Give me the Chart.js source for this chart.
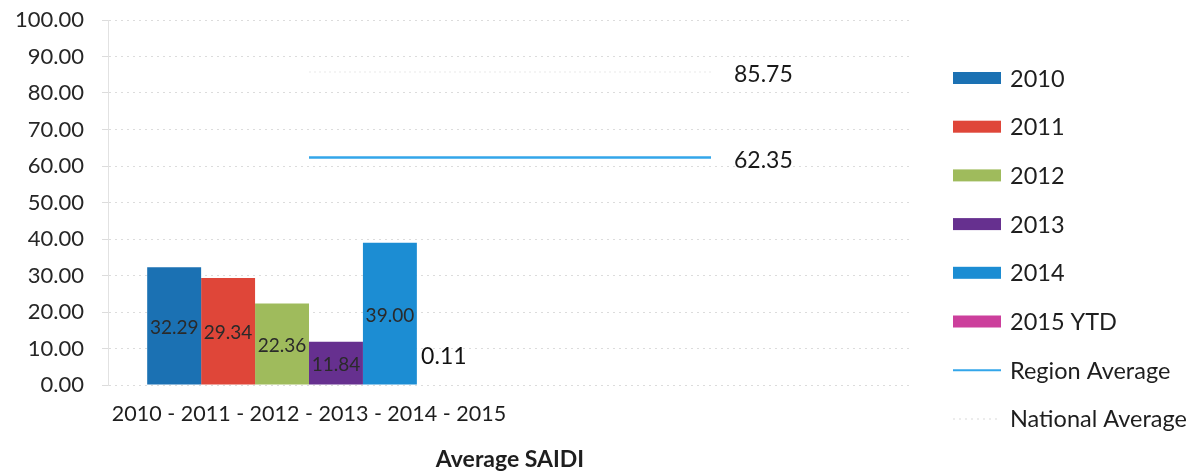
<!DOCTYPE html>
<html>
<head>
<meta charset="utf-8">
<script src="https://cdn.jsdelivr.net/npm/chart.js@4.4.1/dist/chart.umd.min.js"></script>
<style>
  html, body { margin: 0; padding: 0; background: #ffffff; }
  #wrap { width: 1198px; height: 473px; position: relative; }
</style>
</head>
<body>
<div id="wrap"><canvas id="c"></canvas></div>
<script>
// Average SAIDI by year, with region and national averages
const categories = ['2010 - 2011 - 2012 - 2013 - 2014 - 2015', ''];
const years = ['2010', '2011', '2012', '2013', '2014', '2015 YTD'];
const saidi = [32.29, 29.34, 22.36, 11.84, 39.00, 0.11];
const yearColors = ['#1b71b3', '#df4639', '#9fbb5c', '#66308f', '#1c8dd3', '#cc3f9c'];
const regionAverage = [62.35, 62.35];
const nationalAverage = [85.75, 85.75];
const yTicks = [0, 10, 20, 30, 40, 50, 60, 70, 80, 90, 100];

const FONT = 'Lato, "Open Sans", sans-serif';

const barSets = years.map((y, i) => ({
  type: 'bar',
  label: y,
  data: [saidi[i], null],
  backgroundColor: yearColors[i],
  borderWidth: 0,
  order: 2,
  grouped: true
}));

const lineSets = [
  {
    type: 'line', label: 'Region Average', data: regionAverage,
    borderColor: '#33a6ea', backgroundColor: '#33a6ea', borderWidth: 2.5,
    pointRadius: 0, order: 1, legendKind: 'line'
  },
  {
    type: 'line', label: 'National Average', data: nationalAverage,
    borderColor: '#f1f1f1', backgroundColor: '#f1f1f1', borderWidth: 1.5,
    borderDash: [2, 3], pointRadius: 0, order: 1, legendKind: 'faint'
  }
];

// value labels on bars and at the end of the average lines
const valueLabels = {
  id: 'valueLabels',
  afterDatasetsDraw(chart) {
    const ctx = chart.ctx;
    ctx.save();
    chart.data.datasets.forEach((ds, di) => {
      const meta = chart.getDatasetMeta(di);
      if (ds.type === 'bar') {
        const el = meta.data[0];
        const v = ds.data[0];
        const small = v < 5;
        ctx.font = (small ? '23px ' : '19px ') + FONT;
        ctx.fillStyle = small ? '#111' : '#2a2a2a';
        ctx.textAlign = 'center';
        ctx.textBaseline = 'middle';
        const y = small ? el.base - 28 : (el.y + el.base) / 2 + 2;
        ctx.fillText(v.toFixed(2), el.x, y);
      } else {
        const pts = meta.data;
        const last = pts[pts.length - 1];
        ctx.font = '23px ' + FONT;
        ctx.fillStyle = '#1a1a1a';
        ctx.textAlign = 'left';
        ctx.textBaseline = 'middle';
        ctx.fillText(ds.data[ds.data.length - 1].toFixed(2), last.x + 23, last.y + 3);
      }
    });
    ctx.restore();
  }
};

// legend on the right side
const sideLegend = {
  id: 'sideLegend',
  afterDraw(chart) {
    const ctx = chart.ctx;
    ctx.save();
    const x0 = 953, y0 = 78, step = 48.7;
    chart.data.datasets.forEach((ds, i) => {
      const cy = y0 + i * step;
      if (ds.type === 'bar') {
        ctx.fillStyle = ds.backgroundColor;
        ctx.fillRect(x0, cy - 6, 48, 12);
      } else if (ds.legendKind === 'line') {
        ctx.strokeStyle = ds.borderColor;
        ctx.lineWidth = 2;
        ctx.beginPath(); ctx.moveTo(x0, cy); ctx.lineTo(x0 + 48, cy); ctx.stroke();
      } else {
        ctx.strokeStyle = '#e6e6e6';
        ctx.lineWidth = 1.5;
        ctx.setLineDash([2, 4]);
        ctx.beginPath(); ctx.moveTo(x0, cy); ctx.lineTo(x0 + 48, cy); ctx.stroke();
        ctx.setLineDash([]);
      }
      ctx.font = '23.5px ' + FONT;
      ctx.fillStyle = '#1e1e1e';
      ctx.textAlign = 'left';
      ctx.textBaseline = 'middle';
      ctx.fillText(ds.label, x0 + 57, cy + 1);
    });
    ctx.restore();
  }
};

new Chart(document.getElementById('c'), {
  data: { labels: categories, datasets: [...barSets, ...lineSets] },
  options: {
    responsive: true,
    maintainAspectRatio: false,
    animation: false,
    layout: { padding: { top: 20, right: 286, left: 0, bottom: 0 } },
    datasets: { bar: { categoryPercentage: 0.805, barPercentage: 1.0 } },
    plugins: { legend: { display: false }, tooltip: { enabled: false } },
    scales: {
      x: {
        grid: { display: false },
        border: { display: false },
        ticks: { color: '#1e1e1e', font: { family: FONT, size: 21.5 }, padding: 8, maxRotation: 0 },
        title: { display: true, text: 'Average SAIDI', color: '#1e1e1e',
                 font: { family: FONT, size: 23, weight: 'bold' }, padding: { top: 8, bottom: 0 } },
        afterFit(scale) { scale.height = 88; }
      },
      y: {
        min: 0, max: 100,
        afterBuildTicks(scale) { scale.ticks = yTicks.map(v => ({ value: v })); },
        grid: { color: '#dcdcdc', lineWidth: 1, drawTicks: true, tickLength: 6, tickColor: '#dcdcdc' },
        border: { display: true, color: '#e2e2e2', dash: [2, 4] },
        ticks: { color: '#262626', font: { family: FONT, size: 22 }, padding: 18,
                 callback: v => Number(v).toFixed(2) },
        afterFit(scale) {
          scale.width = 108;
          scale.paddingTop = 0;
          scale.paddingBottom = 0;
        }
      }
    }
  },
  plugins: [valueLabels, sideLegend]
});
</script>
</body>
</html>
